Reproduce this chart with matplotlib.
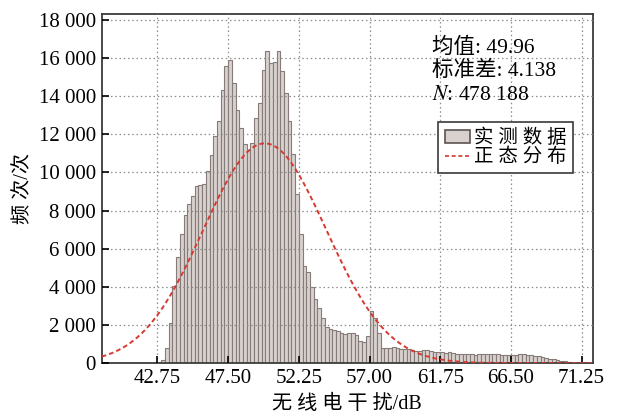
import numpy as np
import matplotlib
matplotlib.use("Agg")
import matplotlib.pyplot as plt
from matplotlib.patches import Patch
from matplotlib.lines import Line2D
from matplotlib.ticker import FuncFormatter

plt.rcParams['font.family'] = ['Liberation Serif', 'Noto Sans CJK SC']
plt.rcParams['mathtext.fontset'] = 'stix'

# ---- data ----
bin_start = 43.0
bin_width = 0.25
counts = [
    140, 780, 2120, 4030, 5560, 6780, 7790, 8350, 8780, 9270,
    9340, 9390, 10090, 10920, 11910, 12690, 14300, 15560, 15910, 14700,
    13300, 12350, 11480, 11200, 11560, 12860, 13650, 15390, 16350, 15740,
    15790, 16350, 15340, 14170, 12690, 10960, 8870, 6780, 5100,
    4780, 4000, 3340, 2870, 2350, 1910, 1790, 1740, 1690, 1600,
    1530, 1570, 1600, 1480, 1180, 1130, 1430,
    2750, 2350, 1570, 780, 780, 820, 870, 800, 730, 730,
    730, 700, 630, 630, 700, 700, 640, 610, 560, 570, 520,
    560, 530, 500, 480, 470, 480, 470, 450, 460, 470,
    480, 470, 460, 460, 450, 430, 420, 410, 420, 460,
    470, 440, 410, 400, 350, 300, 260, 230, 200, 170,
    130, 90, 60, 30, 10,
]
mean_val = 49.96
std_val = 4.138
n_total = 478188
x_ticks = [42.75, 47.50, 52.25, 57.00, 61.75, 66.50, 71.25]
y_ticks = [0, 2000, 4000, 6000, 8000, 10000, 12000, 14000, 16000, 18000]
xlim = (39, 72)
ylim = (0, 18300)
x_label = '无线电干扰/dB'
y_label = '频次/次'
legend_labels = ['实测数据', '正态分布']
stat_lines = ['均值: 49.96', '标准差: 4.138', '$N$: 478 188']


def spaced(s):
    """Widen CJK text a little (reference uses loose letter spacing)."""
    out = []
    for i, ch in enumerate(s):
        out.append(ch)
        if i + 1 < len(s) and ord(ch) > 0x2E80 and ord(s[i + 1]) > 0x2E80:
            out.append(' ')
    return ''.join(out)


edges = bin_start + bin_width * np.arange(len(counts) + 1)
lefts = edges[:-1]

fig = plt.figure(figsize=(6.2, 4.16), dpi=100)
ax = fig.add_axes([0.164, 0.127, 0.792, 0.839])

ax.bar(lefts, counts, width=bin_width, align='edge', color='#d9d1ce',
       edgecolor='#857b78', linewidth=0.8, zorder=2)

xs = np.linspace(xlim[0], xlim[1], 400)
pdf = n_total * bin_width / (std_val * np.sqrt(2 * np.pi)) * np.exp(-(xs - mean_val) ** 2 / (2 * std_val ** 2))
ax.plot(xs, pdf, color='#d63a30', linewidth=1.4, dashes=(2.4, 1.6), zorder=4)

ax.set_xlim(*xlim)
ax.set_ylim(*ylim)
ax.set_xticks(x_ticks)
ax.set_xticklabels([f"{t:.2f}" for t in x_ticks])
ax.set_yticks(y_ticks)
ax.yaxis.set_major_formatter(FuncFormatter(lambda v, p: f"{int(v):,}".replace(",", " ")))

ax.grid(True, color='#8c8c8c', linestyle=(0, (1.2, 2.2)), linewidth=0.9, zorder=3)
ax.set_axisbelow(False)
for gl in ax.get_xgridlines() + ax.get_ygridlines():
    gl.set_zorder(3)

ax.tick_params(direction='in', length=5, width=1.2, labelsize=15, colors='black',
               top=False, right=False, pad=4)
for s in ax.spines.values():
    s.set_color('#3a3a3a')
    s.set_linewidth(1.3)

ax.set_xlabel(spaced(x_label), fontsize=14.5, labelpad=5)
ax.set_ylabel(spaced(y_label), fontsize=14.5, labelpad=4)

for txt, yy in zip(stat_lines, [0.903, 0.837, 0.768]):
    ax.text(0.672, yy, txt, transform=ax.transAxes, fontsize=15.5, va='center', ha='left', zorder=6)

handles = [Patch(facecolor='#d9d1ce', edgecolor='#5a5352', linewidth=1.2),
           Line2D([0], [0], color='#d63a30', linewidth=1.2, dashes=(2.4, 1.6))]
leg = ax.legend(handles, [spaced(l) for l in legend_labels], loc='upper left',
                bbox_to_anchor=(0.6845, 0.6914), borderaxespad=0, fontsize=14,
                frameon=True, fancybox=False, framealpha=1, edgecolor='#3a3a3a',
                handlelength=1.3, handleheight=0.7, handletextpad=0.2,
                labelspacing=0.05, borderpad=0.35)
leg.get_frame().set_linewidth(1.2)
leg.set_zorder(7)

fig.savefig('out.png', dpi=100)
